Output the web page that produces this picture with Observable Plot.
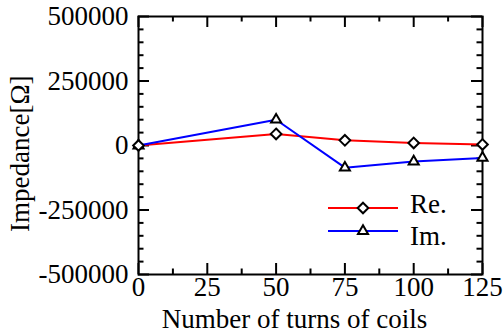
<!DOCTYPE html>
<html><head><meta charset="utf-8">
<script src="https://cdn.jsdelivr.net/npm/d3@7"></script>
<script src="https://cdn.jsdelivr.net/npm/@observablehq/plot@0.6"></script>
<style>html,body{margin:0;padding:0;background:#fff;}</style>
</head><body><div id="chart"></div>
<script>
const turns = [0, 50, 75, 100, 125];
const reValues = [0, 45000, 20000, 10000, 4000];
const imValues = [0, 100000, -86000, -62000, -48000];
const seriesNames = ["Re.", "Im."];
const seriesColors = ["#ff0000", "#0000ff"];
const seriesSymbols = ["diamond2", "triangle2"];
const xMajorTicks = [0, 25, 50, 75, 100, 125];
const xMinorTicks = [12.5, 37.5, 62.5, 87.5, 112.5];
const yMajorTicks = [-500000, -250000, 0, 250000, 500000];
const yMinorTicks = [-450000, -400000, -350000, -300000, -200000, -150000, -100000, -50000,
  50000, 100000, 150000, 200000, 300000, 350000, 400000, 450000];
const xLabel = "Number of turns of coils";
const yLabel = "Impedance[Ω]";

const W = 504, H = 332;
const mT = 16, mR = 22, mB = 58, mL = 138;
const fW = W - mL - mR, fH = H - mT - mB;
const major = 11, minor = 5.5;
const FONT = "'Liberation Serif', 'Times New Roman', serif";
const FS = 27;

const reData = turns.map((t, i) => ({x: t, y: reValues[i]}));
const imData = turns.map((t, i) => ({x: t, y: imValues[i]}));

const tickStyle = {stroke: "black", strokeWidth: 2};
const fmt = d => String(d);
const textStyle = {fontFamily: FONT, fontSize: FS, fill: "black"};

const svg = Plot.plot({
  width: W, height: H,
  marginTop: mT, marginRight: mR, marginBottom: mB, marginLeft: mL,
  style: {fontFamily: FONT, fontSize: FS + "px", background: "white", color: "black", overflow: "visible"},
  x: {domain: [0, 125]},
  y: {domain: [-500000, 500000]},
  marks: [
    Plot.ruleX(xMajorTicks, {x: d => d, insetTop: fH - major, ...tickStyle}),
    Plot.ruleX(xMajorTicks, {x: d => d, insetBottom: fH - major, ...tickStyle}),
    Plot.ruleX(xMinorTicks, {x: d => d, insetTop: fH - minor, ...tickStyle}),
    Plot.ruleX(xMinorTicks, {x: d => d, insetBottom: fH - minor, ...tickStyle}),
    Plot.ruleY(yMajorTicks, {y: d => d, insetRight: fW - major, ...tickStyle}),
    Plot.ruleY(yMajorTicks, {y: d => d, insetLeft: fW - major, ...tickStyle}),
    Plot.ruleY(yMinorTicks, {y: d => d, insetRight: fW - minor, ...tickStyle}),
    Plot.ruleY(yMinorTicks, {y: d => d, insetLeft: fW - minor, ...tickStyle}),
    Plot.frame({stroke: "black", strokeWidth: 2}),
    Plot.axisX(xMajorTicks, {tickSize: 0, tickPadding: 2, tickFormat: fmt, label: null, ...textStyle}),
    Plot.axisY(yMajorTicks, {tickSize: 0, tickPadding: 10, tickFormat: fmt, label: null, ...textStyle}),
    Plot.line(reData, {x: "x", y: "y", stroke: seriesColors[0], strokeWidth: 2}),
    Plot.line(imData, {x: "x", y: "y", stroke: seriesColors[1], strokeWidth: 2}),
    Plot.dot(imData, {x: "x", y: "y", symbol: seriesSymbols[1], r: 4.8, stroke: "black", strokeWidth: 2, fill: "white"}),
    Plot.dot(reData, {x: "x", y: "y", symbol: seriesSymbols[0], r: 4.8, stroke: "black", strokeWidth: 2, fill: "white"}),
    Plot.text([xLabel], {text: d => d, frameAnchor: "bottom", dx: -16, dy: 53, lineAnchor: "bottom", textAnchor: "middle", ...textStyle})
  ]
});

const root = d3.select(svg);
// y-axis title (start-anchored, running upward)
root.append("text")
  .attr("transform", `translate(29,232) rotate(-90)`)
  .attr("text-anchor", "start")
  .attr("fill", "black")
  .text(yLabel);

// legend inside plot area
const lg = root.append("g").attr("text-anchor", "start");
const legendRows = [{y: 208, ty: 213}, {y: 231, ty: 245}];
const symFns = [d3.symbolDiamond2, d3.symbolTriangle2];
seriesNames.forEach((name, i) => {
  const r = legendRows[i];
  lg.append("line").attr("x1", 328).attr("x2", 398).attr("y1", r.y).attr("y2", r.y)
    .attr("stroke", seriesColors[i]).attr("stroke-width", 2);
  lg.append("path").attr("d", d3.symbol(symFns[i], Math.PI * 4.8 * 4.8)())
    .attr("transform", `translate(363,${r.y})`)
    .attr("fill", "white").attr("stroke", "black").attr("stroke-width", 2);
  lg.append("text").attr("x", 410).attr("y", r.ty).attr("text-anchor", "start").attr("fill", "black").text(name);
});

root.selectAll("text").style("font-family", FONT).style("font-size", FS + "px").style("font-variant", "normal");

document.getElementById("chart").appendChild(svg);
</script>
</body></html>
